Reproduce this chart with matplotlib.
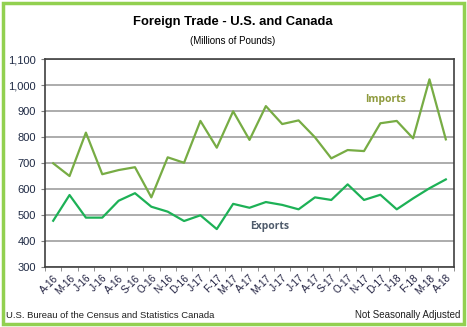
import matplotlib.pyplot as plt
from matplotlib.patches import Rectangle
import numpy as np

months = ['A-16', 'M-16', 'J-16', 'J-16', 'A-16', 'S-16', 'O-16', 'N-16', 'D-16',
          'J-17', 'F-17', 'M-17', 'A-17', 'M-17', 'J-17', 'J-17', 'A-17', 'S-17',
          'O-17', 'N-17', 'D-17', 'J-18', 'F-18', 'M-18', 'A-18']
imports = [700, 651, 818, 658, 674, 685, 569, 723, 702, 863, 760, 900, 790,
           920, 851, 865, 800, 719, 751, 747, 854, 863, 796, 1023, 792]
exports = [479, 578, 491, 491, 556, 585, 533, 514, 478, 500, 447, 544, 529,
           551, 540, 523, 569, 559, 619, 559, 579, 523, 565, 604, 638]

plt.rcParams['font.family'] = ['Liberation Sans', 'DejaVu Sans']

fig = plt.figure(figsize=(4.67, 3.27), dpi=100)
ax = fig.add_axes([45 / 467, 59.7 / 327, 409 / 467, 208 / 327])

x = np.arange(len(months))
ax.plot(x, imports, color='#77AC44', linewidth=1.6)
ax.plot(x, exports, color='#1DB156', linewidth=1.6)

ax.set_xlim(-0.5, len(months) - 0.5)
ax.set_ylim(300, 1100)
ax.set_yticks(range(300, 1101, 100))
ax.set_yticklabels(['{:,}'.format(v) for v in range(300, 1101, 100)])
ax.yaxis.grid(True, color='#A6A6A6', linewidth=1.3)
ax.set_axisbelow(True)

ax.set_xticks(x)
ax.set_xticklabels(months, rotation=45, ha='right', rotation_mode='anchor')
ax.set_xticks(np.arange(-0.5, len(months)), minor=True)
ax.tick_params(axis='x', which='major', length=0, labelsize=7.2, pad=4, colors='#1F1F3F')
ax.tick_params(axis='x', which='minor', length=3, color='#7F7F7F')
ax.tick_params(axis='y', length=3, color='#7F7F7F', labelsize=8, colors='#1F2A44')

for s in ax.spines.values():
    s.set_color('#404040')
    s.set_linewidth(1.2)

ax.text(20.3, 944, 'Imports', color='#8E9A3C', fontsize=7.5, fontweight='bold',
        ha='center', va='center', family=['Open Sans', 'DejaVu Sans'])
ax.text(13.25, 455, 'Exports', color='#4F5B6B', fontsize=7.5, fontweight='bold',
        ha='center', va='center', family=['Open Sans', 'DejaVu Sans'])

fig.text(233 / 467, 1 - 22 / 327, 'Foreign Trade - U.S. and Canada', ha='center', va='center',
         fontsize=9.4, fontweight='bold', color='black')
fig.text(233 / 467, 1 - 41 / 327, '(Millions of Pounds)', ha='center', va='center',
         fontsize=7, color='black')
fig.text(6 / 467, 1 - 315 / 327, 'U.S. Bureau of the Census and Statistics Canada',
         ha='left', va='center', fontsize=6.8, color='#1F1F1F')
fig.text(460 / 467, 1 - 315 / 327, 'Not Seasonally Adjusted',
         ha='right', va='center', fontsize=7.0, color='#1F1F1F')

# light green frame around the whole chart
fig.patches.append(Rectangle((2.5 / 467, 3.5 / 327), 461 / 467, 321 / 327,
                             transform=fig.transFigure, fill=False,
                             edgecolor='#92D050', linewidth=2.5))

fig.savefig('out.png', dpi=100)
